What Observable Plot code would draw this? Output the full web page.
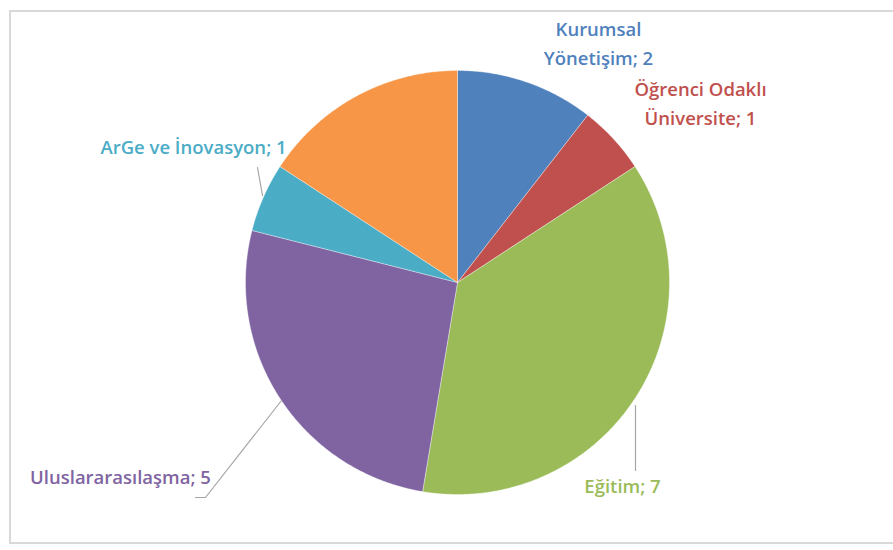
<!DOCTYPE html>
<html><head><meta charset="utf-8">
<script src="https://cdn.jsdelivr.net/npm/d3@7"></script>
<script src="https://cdn.jsdelivr.net/npm/@observablehq/plot@0.6"></script>
<style>
body{margin:0;background:#fff;overflow:hidden}
#frame{position:absolute;left:9px;top:10px;width:900px;height:534px;border:2px solid #d9d9d9;box-sizing:border-box}
#chart{position:absolute;left:0;top:0}
</style></head>
<body><div id="frame"></div><div id="chart"></div>
<script>
const categories = ["Kurumsal Yönetişim","Öğrenci Odaklı Üniversite","Eğitim","Uluslararasılaşma","ArGe ve İnovasyon","Diğer"];
const values = [2,1,7,5,1,3];
const colors = ["#4F81BD","#C0504D","#9BBB59","#8064A2","#4BACC6","#F79646"];
const labelLines = [["Kurumsal","Yönetişim; 2"],["Öğrenci Odaklı","Üniversite; 1"],["Eğitim; 7"],["Uluslararasılaşma; 5"],["ArGe ve İnovasyon; 1"],[]];

// layout (pixels)
const W = 893, H = 550, cx = 457, cy = 282, R = 212;
const labelPos = [
  {x:598,y:30,anchor:"middle"},
  {x:700,y:90,anchor:"middle"},
  {x:622,y:487,anchor:"middle"},
  {x:120,y:478,anchor:"middle"},
  {x:193,y:148,anchor:"middle"},
  null
];
const leaders = [
  null, null,
  [[635,405],[635,470]],
  [[195,497],[205,497],[281,400]],
  [[257,167],[262,195]],
  null
];

const arcs = d3.pie().sort(null).value(d=>d)(values);
const poly = [];
arcs.forEach((a,i)=>{
  poly.push({i, x:cx, y:cy});
  const n = Math.max(2, Math.ceil((a.endAngle-a.startAngle)/(Math.PI/360)));
  for(let k=0;k<=n;k++){
    const t = a.startAngle + (a.endAngle-a.startAngle)*k/n;
    poly.push({i, x:cx+R*Math.sin(t), y:cy-R*Math.cos(t)});
  }
  poly.push({i, x:cx, y:cy});
});

const texts = [];
labelLines.forEach((lines,i)=>{
  const p = labelPos[i]; if(!p) return;
  lines.forEach((t,j)=>texts.push({i, x:p.x, y:p.y+j*29, t, anchor:p.anchor}));
});
const lead = [];
leaders.forEach((l,i)=>{ if(l) l.forEach(([x,y])=>lead.push({i,x,y})); });

const chart = Plot.plot({
  width: W, height: H,
  margin: 0,
  x: {domain:[0,W], range:[0,W], axis:null},
  y: {domain:[0,H], range:[0,H], axis:null},
  style: {background:"transparent", fontFamily:"'Open Sans', Lato, sans-serif"},
  marks: [
    Plot.line(poly, {x:"x", y:"y", z:"i", fill:d=>colors[d.i], stroke:"#ffffff", strokeWidth:0.6, strokeOpacity:0.6, curve:"linear"}),
    Plot.line(lead, {x:"x", y:"y", z:"i", stroke:"#a6a6a6", strokeWidth:1.2}),
    Plot.text(texts, {x:"x", y:"y", text:"t", fill:d=>colors[d.i], fontSize:18.5, fontWeight:600, textAnchor:"middle", lineAnchor:"middle"})
  ]
});
document.getElementById("chart").appendChild(chart);
</script>
</body></html>
